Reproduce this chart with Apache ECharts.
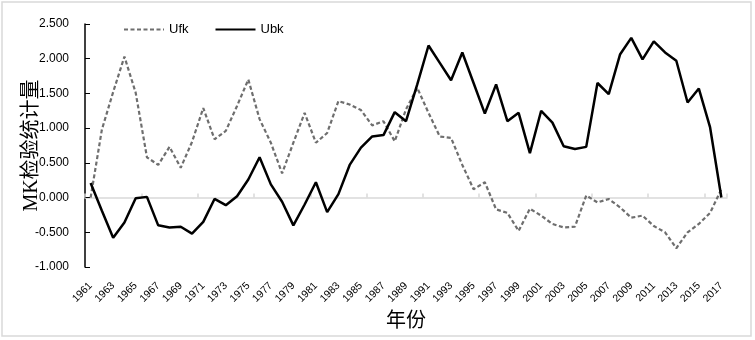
<!DOCTYPE html>
<html>
<head>
<meta charset="utf-8">
<script src="https://cdn.jsdelivr.net/npm/echarts@6/dist/echarts.min.js"></script>
<style>
  html, body { margin: 0; padding: 0; background: #fff; }
  #mkChart { width: 755px; height: 340px; }
</style>
</head>
<body>
<div id="mkChart"></div>
<script>
// years 1961 - 2017
const years = []
for (let y = 1961; y <= 2017; y++) years.push(String(y))

const ufk = [
  0.00, 0.98, 1.52, 2.03, 1.51, 0.58, 0.47, 0.73, 0.43, 0.80,
  1.29, 0.84, 0.96, 1.32, 1.70, 1.13, 0.79, 0.35, 0.79, 1.22,
  0.79, 0.93, 1.39, 1.34, 1.26, 1.04, 1.10, 0.81, 1.27, 1.58,
  1.22, 0.88, 0.86, 0.47, 0.12, 0.22, -0.17, -0.22, -0.48, -0.16,
  -0.26, -0.38, -0.43, -0.42, 0.03, -0.07, -0.02, -0.14, -0.29, -0.26,
  -0.41, -0.50, -0.73, -0.50, -0.38, -0.22, 0.12
]
const ubk = [
  0.21, -0.19, -0.58, -0.36, -0.01, 0.01, -0.40, -0.43, -0.42, -0.52,
  -0.35, -0.02, -0.11, 0.02, 0.26, 0.58, 0.19, -0.06, -0.40, -0.10,
  0.22, -0.21, 0.05, 0.47, 0.72, 0.88, 0.90, 1.23, 1.10, 1.63,
  2.19, 1.94, 1.69, 2.09, 1.65, 1.21, 1.63, 1.10, 1.22, 0.64,
  1.25, 1.08, 0.74, 0.70, 0.73, 1.65, 1.49, 2.06, 2.30, 1.99,
  2.25, 2.09, 1.97, 1.37, 1.57, 1.01, 0.00
]
const yTicks = { min: -1, max: 2.5, step: 0.5 }

const labelFont = "'Liberation Sans', Arial, sans-serif"
const nameFont = "'Liberation Serif', 'Noto Sans CJK SC', serif"

const chart = echarts.init(document.getElementById('mkChart'))
chart.setOption({
  animation: false,
  graphic: [{
    type: 'rect',
    shape: { x: 2, y: 2, width: 749, height: 334 },
    style: { fill: 'none', stroke: '#d9d9d9', lineWidth: 1.5 },
    silent: true
  }],
  legend: {
    left: 118,
    top: 18,
    itemWidth: 40,
    itemHeight: 12,
    itemGap: 26,
    itemStyle: { opacity: 0 },
    textStyle: { fontFamily: labelFont, fontSize: 13, color: '#000' },
    data: ['Ufk', 'Ubk']
  },
  grid: { left: 85, right: 28, top: 24, bottom: 73, containLabel: false, outerBoundsMode: 'none' },
  xAxis: [
    {
      // bottom axis carrying the labels and name
      type: 'category',
      data: years,
      boundaryGap: true,
      position: 'bottom',
      axisLine: { show: false, onZero: false },
      axisTick: { show: false },
      axisLabel: {
        interval: 1,
        rotate: 45,
        margin: 17,
        fontFamily: labelFont,
        fontSize: 10.5,
        color: '#000'
      },
      name: '年份',
      nameLocation: 'middle',
      nameGap: 45,
      nameMoveOverlap: false,
      nameTextStyle: { fontFamily: nameFont, fontSize: 20, color: '#000' }
    },
    {
      // zero line
      type: 'category',
      data: years,
      boundaryGap: true,
      axisLine: { show: true, onZero: true, lineStyle: { color: '#d9d9d9', width: 1.5 } },
      axisTick: { show: true, interval: 4, length: 4, lineStyle: { color: '#d9d9d9', width: 1.5 } },
      axisLabel: { show: false }
    }
  ],
  yAxis: {
    type: 'value',
    min: yTicks.min,
    max: yTicks.max,
    interval: yTicks.step,
    axisLine: { show: true, lineStyle: { color: '#000', width: 1.5 } },
    axisTick: { show: true, inside: true, length: 5, lineStyle: { color: '#000' } },
    splitLine: { show: false },
    axisLabel: {
      margin: 16,
      fontFamily: labelFont,
      fontSize: 12,
      color: '#000',
      formatter: (v) => v.toFixed(3)
    },
    name: 'MK检验统计量',
    nameLocation: 'middle',
    nameGap: 43,
    nameMoveOverlap: false,
    nameTextStyle: { fontFamily: nameFont, fontSize: 20, color: '#000' }
  },
  series: [
    {
      name: 'Ufk',
      type: 'line',
      data: ufk,
      symbol: 'none',
      color: '#6e6e6e',
      lineStyle: { color: '#6e6e6e', width: 2.2, type: [4, 2.5] },
      z: 2
    },
    {
      name: 'Ubk',
      type: 'line',
      data: ubk,
      symbol: 'none',
      color: '#000',
      lineStyle: { color: '#000', width: 2.5 },
      z: 3
    }
  ]
})
</script>
</body>
</html>
